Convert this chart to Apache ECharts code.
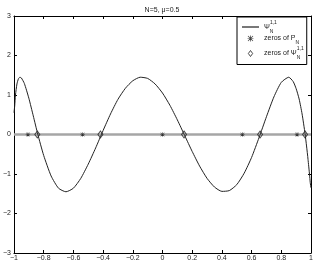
<!DOCTYPE html>
<html>
<head>
<meta charset="utf-8">
<script src="https://cdn.jsdelivr.net/npm/echarts@6/dist/echarts.min.js"></script>
<style>html,body{margin:0;padding:0;background:#fff}#c{width:316px;height:262px}</style>
</head>
<body>
<div id="c"></div>
<script>
var titleText = 'N=5, \u03bc=0.5';
var xTicks = {min: -1, max: 1, interval: 0.2};
var yTicks = {min: -3, max: 3, interval: 1};
var xCurve = [-1,-0.995,-0.99,-0.98,-0.97,-0.96,-0.95,-0.93,-0.9,-0.87,-0.84,-0.8,-0.75,-0.7,-0.65,-0.6,-0.55,-0.5,-0.45,-0.4,-0.35,-0.3,-0.25,-0.2,-0.15,-0.1,-0.05,0,0.05,0.1,0.15,0.2,0.25,0.3,0.35,0.4,0.45,0.5,0.55,0.6,0.65,0.7,0.75,0.8,0.85,0.88,0.9,0.92,0.94,0.96,0.97,0.98,0.99,0.995,1];
var yCurve = [0.55,0.73,1.00,1.28,1.41,1.45,1.43,1.29,0.92,0.47,0.01,-0.53,-1.05,-1.36,-1.45,-1.36,-1.11,-0.75,-0.34,0.10,0.52,0.89,1.17,1.36,1.45,1.42,1.28,1.05,0.74,0.37,-0.03,-0.43,-0.80,-1.11,-1.33,-1.44,-1.42,-1.27,-0.98,-0.58,-0.08,0.45,0.95,1.32,1.45,1.34,1.16,0.90,0.52,0.02,-0.29,-0.63,-1.01,-1.22,-1.35];
var zerosP = [-0.906, -0.538, 0, 0.538, 0.906];
var zerosPsi = [-0.843, -0.418, 0.145, 0.657, 0.960];
var zeroLineX = [-1, 1];

var FONT = 'Liberation Sans, Arial, sans-serif';
var chart = echarts.init(document.getElementById('c'), null, {renderer: 'canvas'});
function fmt(v) {
  var r = Math.round(v * 10) / 10;
  return String(r).replace('-', '\u2212');
}
var curveData = xCurve.map(function (x, i) { return [x, yCurve[i]]; });
var pData = zerosP.map(function (x) { return [x, 0]; });
var psiData = zerosPsi.map(function (x) { return [x, 0]; });
var zData = zeroLineX.map(function (x) { return [x, 0]; });

var axisCommon = {
  type: 'value',
  axisLine: {show: true, onZero: false, lineStyle: {color: '#000', width: 1}},
  axisTick: {show: true, inside: true, length: 3, lineStyle: {color: '#000', width: 1}},
  splitLine: {show: false}
};
var labelStyle = {fontSize: 7, color: '#222', fontFamily: FONT, formatter: fmt, showMinLabel: true, showMaxLabel: true};
var starPath = 'path://M4.4,0H5.6V10H4.4Z M0,4.4H10V5.6H0Z M1.2,0.4L9.6,8.8L8.8,9.6L0.4,1.2Z M8.8,0.4L9.6,1.2L1.2,9.6L0.4,8.8Z';
var diamondPath = 'path://M2.5,0L5,3.5L2.5,7L0,3.5Z';

var legendLabels = {
  psi: '{t|\u03a8}{sub|N}{sup|1,1}',
  zerosP: '{t|zeros of P}{sub|N}',
  zerosPsi: '{t|zeros of \u03a8}{sub|N}{sup|1,1}'
};

chart.setOption({
  animation: false,
  backgroundColor: '#fff',
  title: {
    text: titleText, left: 157, top: 2, textAlign: 'center',
    textStyle: {fontSize: 7, fontWeight: 'normal', color: '#222', fontFamily: FONT}
  },
  grid: {left: 10, right: 5, top: 16, bottom: 9, containLabel: false},
  xAxis: [
    Object.assign({}, axisCommon, {min: xTicks.min, max: xTicks.max, interval: xTicks.interval, position: 'bottom',
      axisLabel: Object.assign({margin: 2}, labelStyle)}),
    Object.assign({}, axisCommon, {min: xTicks.min, max: xTicks.max, interval: xTicks.interval, position: 'top',
      axisLabel: {show: false}})
  ],
  yAxis: [
    Object.assign({}, axisCommon, {min: yTicks.min, max: yTicks.max, interval: yTicks.interval, position: 'left',
      axisLabel: Object.assign({margin: 3}, labelStyle)}),
    Object.assign({}, axisCommon, {min: yTicks.min, max: yTicks.max, interval: yTicks.interval, position: 'right',
      axisLabel: {show: false}})
  ],
  legend: {
    orient: 'vertical', left: 237, top: 17,
    data: [
      {name: 'psi', icon: 'path://M0,0H18V1.2H0Z', itemStyle: {color: '#111'}},
      {name: 'zerosP', icon: starPath},
      {name: 'zerosPsi', icon: diamondPath, itemStyle: {color: 'rgba(0,0,0,0)', borderColor: '#222', borderWidth: 1}}
    ],
    itemWidth: 17, itemHeight: 6, itemGap: 1,
    symbolKeepAspect: true,
    padding: [3, 3, 4, 5],
    backgroundColor: '#fff', borderColor: '#000', borderWidth: 1, borderRadius: 0,
    selectedMode: false,
    formatter: function (n) { return legendLabels[n]; },
    textStyle: {
      fontFamily: FONT, color: '#222', width: 42, overflow: 'none',
      rich: {
        t: {fontSize: 7, lineHeight: 14, verticalAlign: 'middle', fontFamily: FONT, color: '#222'},
        sub: {fontSize: 5, lineHeight: 6, verticalAlign: 'bottom', fontFamily: FONT, color: '#222', width: 0.1},
        sup: {fontSize: 5, lineHeight: 6, verticalAlign: 'top', fontFamily: FONT, color: '#222'}
      }
    }
  },
  series: [
    {
      name: 'zeroline', type: 'line', data: zData, symbol: 'none', silent: true,
      lineStyle: {color: '#a6a6a6', width: 2.5}, z: 1
    },
    {
      name: 'psi', type: 'line', data: curveData, symbol: 'none', showSymbol: false, smooth: 0.2,
      lineStyle: {color: '#222', width: 1}, itemStyle: {color: '#222'}, z: 2
    },
    {
      name: 'zerosP', type: 'scatter', data: pData, symbol: starPath, symbolSize: 4.5,
      itemStyle: {color: '#111'}, z: 3
    },
    {
      name: 'zerosPsi', type: 'scatter', data: psiData, symbol: 'diamond', symbolSize: [5, 7],
      itemStyle: {color: 'rgba(0,0,0,0)', borderColor: '#222', borderWidth: 1}, z: 4
    }
  ]
});
</script>
</body>
</html>
